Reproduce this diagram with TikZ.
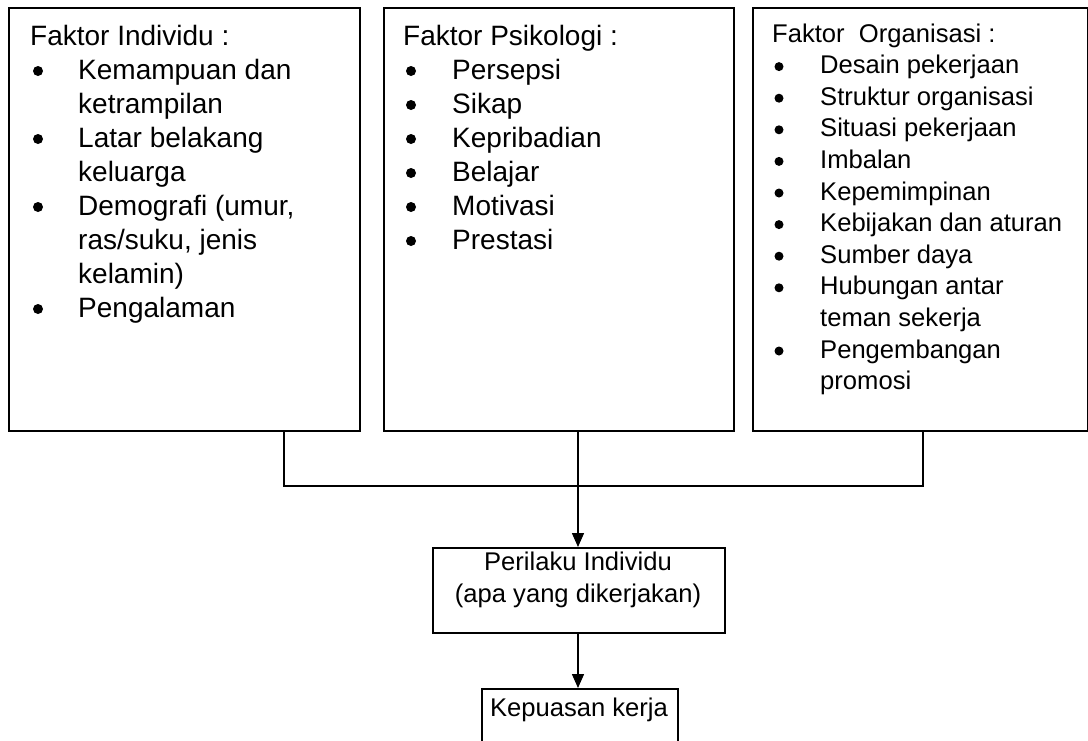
\documentclass[tikz,border=0pt]{standalone}
\usepackage{fontspec}
\setmainfont{Liberation Sans}
\usetikzlibrary{arrows.meta}
\begin{document}
\begin{tikzpicture}[x=1pt,y=-1pt,
  box/.style={draw, line width=1.5pt, inner sep=0pt, anchor=north west},
  big/.style={font=\fontsize{28}{34}\selectfont, inner sep=0pt, anchor=base west},
  small/.style={font=\fontsize{25.6}{31}\selectfont, inner sep=0pt, anchor=base west},
  ctext/.style={font=\fontsize{25.6}{31}\selectfont, inner sep=0pt, anchor=base},
  bbig/.style={circle, fill, inner sep=0pt, minimum size=10pt},
  bsmall/.style={circle, fill, inner sep=0pt, minimum size=9pt},
  conn/.style={line width=1.5pt},
  arr/.style={line width=1.5pt, -{Triangle[length=14pt,width=12pt]}}]
\useasboundingbox (0,0) rectangle (1088,740);

% boxes
\node[box, minimum width=351pt, minimum height=423pt] (b1) at (8,7) {};
\node[box, minimum width=350pt, minimum height=423pt] (b2) at (383,7) {};
\node[box, minimum width=335pt, minimum height=423pt] (b3) at (752,7) {};
\node[box, minimum width=292pt, minimum height=85pt] (p) at (432,547) {};
\node[box, minimum width=196pt, minimum height=70pt] (k) at (481,688) {};

% box 1
\node[big] (t1h) at (30,45) {Faktor Individu :};
\node[bbig] (d1a) at (38,71) {};
\node[big] (t1a) at (78,79) {Kemampuan dan};
\node[big] (t1a2) at (78,113) {ketrampilan};
\node[bbig] (d1b) at (38,139) {};
\node[big] (t1b) at (78,147) {Latar belakang};
\node[big] (t1b2) at (78,181) {keluarga};
\node[bbig] (d1c) at (38,207) {};
\node[big] (t1c) at (78,215) {Demografi (umur,};
\node[big] (t1c2) at (78,249) {ras/suku, jenis};
\node[big] (t1c3) at (78,283) {kelamin)};
\node[bbig] (d1d) at (38,309) {};
\node[big] (t1d) at (78,317) {Pengalaman};

% box 2
\node[big] (t2h) at (403,45) {Faktor Psikologi :};
\node[bbig] (d2a) at (411,71) {};
\node[big] (t2a) at (452,79) {Persepsi};
\node[bbig] (d2b) at (411,105) {};
\node[big] (t2b) at (452,113) {Sikap};
\node[bbig] (d2c) at (411,139) {};
\node[big] (t2c) at (452,147) {Kepribadian};
\node[bbig] (d2d) at (411,173) {};
\node[big] (t2d) at (452,181) {Belajar};
\node[bbig] (d2e) at (411,207) {};
\node[big] (t2e) at (452,215) {Motivasi};
\node[bbig] (d2f) at (411,241) {};
\node[big] (t2f) at (452,249) {Prestasi};

% box 3
\node[small] (t3h) at (772,42) {Faktor\ \ Organisasi :};
\node[bsmall] (d3a) at (779,66.6) {};
\node[small] (t3a) at (820,73.6) {Desain pekerjaan};
\node[bsmall] (d3b) at (779,98.2) {};
\node[small] (t3b) at (820,105.2) {Struktur organisasi};
\node[bsmall] (d3c) at (779,129.8) {};
\node[small] (t3c) at (820,136.8) {Situasi pekerjaan};
\node[bsmall] (d3d) at (779,161.4) {};
\node[small] (t3d) at (820,168.4) {Imbalan};
\node[bsmall] (d3e) at (779,193) {};
\node[small] (t3e) at (820,200) {Kepemimpinan};
\node[bsmall] (d3f) at (779,224.6) {};
\node[small] (t3f) at (820,231.6) {Kebijakan dan aturan};
\node[bsmall] (d3g) at (779,256.2) {};
\node[small] (t3g) at (820,263.2) {Sumber daya};
\node[bsmall] (d3h) at (779,287.8) {};
\node[small] (t3h1) at (820,294.8) {Hubungan antar};
\node[small] (t3h2) at (820,326.4) {teman sekerja};
\node[bsmall] (d3i) at (779,351) {};
\node[small] (t3i) at (820,358) {Pengembangan};
\node[small] (t3i2) at (820,389.6) {promosi};

% lower boxes text
\node[ctext] (pt1) at (578,570) {Perilaku Individu};
\node[ctext] (pt2) at (578,602) {(apa yang dikerjakan)};
\node[ctext] (kt) at (579,716) {Kepuasan kerja};

% connectors
\coordinate (jl) at (284,486);
\coordinate (jr) at (923,486);
\coordinate (jc) at (578,486);
\draw[conn] (b1.south -| jl) -- (jl) -- (jr) -- (b3.south -| jr);
\draw[arr] (b2.south -| jc) -- (p.north -| jc);
\draw[arr] (p.south -| jc) -- (k.north -| jc);
\end{tikzpicture}
\end{document}
